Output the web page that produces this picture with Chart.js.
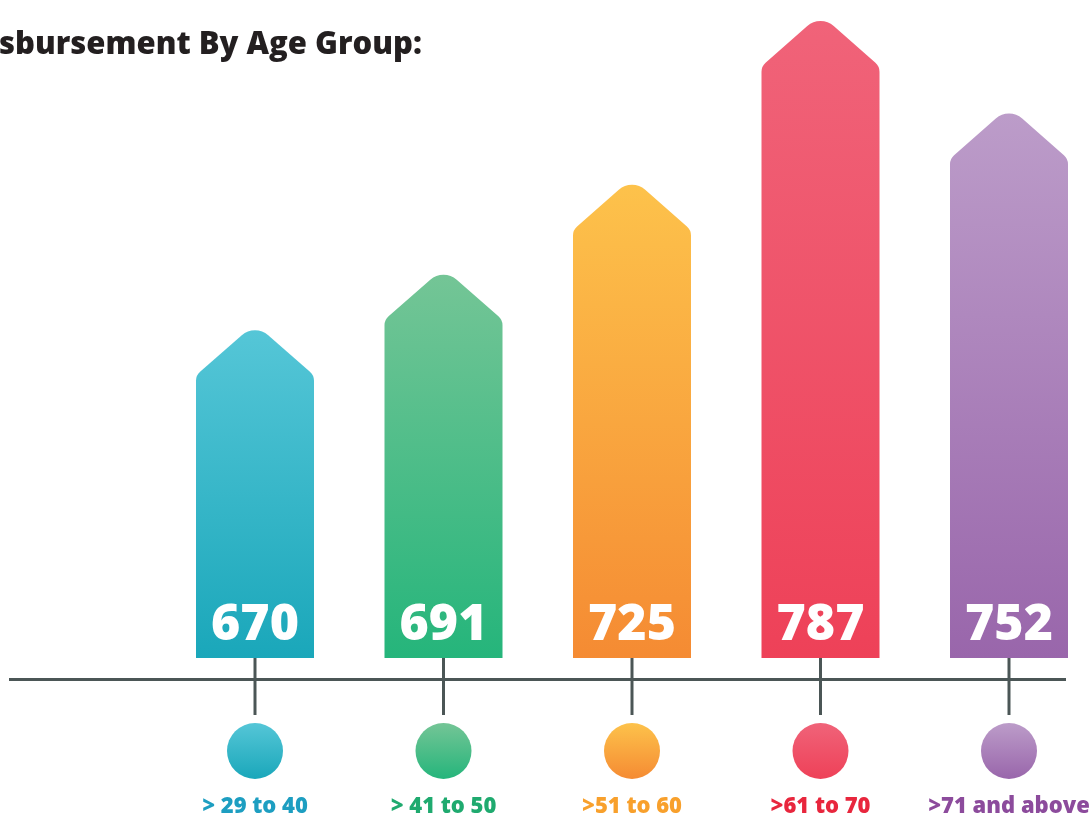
<!DOCTYPE html>
<html>
<head>
<meta charset="utf-8">
<script src="https://cdn.jsdelivr.net/npm/chart.js@4.4.1/dist/chart.umd.min.js"></script>
<style>
  html, body { margin: 0; padding: 0; background: #ffffff; }
  canvas { display: block; }
</style>
</head>
<body>
<canvas id="ageChart" width="1089" height="819"></canvas>
<script>
// data
const ageGroups = ['> 29 to 40', '> 41 to 50', '>51 to 60', '>61 to 70', '>71 and above'];
const disbursements = [670, 691, 725, 787, 752];
const titleText = 'sbursement By Age Group:';

// colours: top of gradient, bottom of gradient, label text
const topColors = ['#55c6d7', '#74c596', '#fdc24b', '#f06379', '#bc9cc9'];
const bottomColors = ['#1aa7ba', '#25b57b', '#f58b33', '#ee4158', '#9966ab'];
const labelColors = ['#1d9ec1', '#1faa6f', '#f8a02c', '#e8263d', '#8c4b9c'];

const lineColor = '#4b5656';
const fontName = '"Open Sans", "Liberation Sans", sans-serif';

const ctx = document.getElementById('ageChart');

// arrow shaped bar with rounded tip and shoulders
function arrowPath(c, x, top, base, w) {
    let half = w / 2;
    let rTip = 20;
    let rSh = 12;
    let slope = 0.88;
    let apex = top - rTip * 0.34;
    let shY = apex + half * slope;
    let left = x - half;
    let right = x + half;
    c.beginPath();
    c.moveTo(left, base);
    c.lineTo(left, shY + rSh);
    c.arcTo(left, shY, x, apex, rSh);
    c.arcTo(x, apex, right, shY, rTip);
    c.arcTo(right, shY, right, base, rSh);
    c.lineTo(right, base);
    c.closePath();
}

const infographic = {
    id: 'infographic',
    afterDatasetsDraw(chart) {
        let c = chart.ctx;
        let meta = chart.getDatasetMeta(0);
        let base = chart.scales.y.getPixelForValue(chart.scales.y.min);

        c.save();

        // title
        c.fillStyle = '#231f20';
        c.font = '800 31px ' + fontName;
        c.textAlign = 'left';
        c.textBaseline = 'alphabetic';
        c.fillText(titleText, -1, 54);

        // axis line
        c.strokeStyle = lineColor;
        c.lineWidth = 3;
        c.beginPath();
        c.moveTo(9, base + 21.5);
        c.lineTo(1066, base + 21.5);
        c.stroke();

        meta.data.forEach(function (bar, i) {
            let w = bar.width;
            let g = c.createLinearGradient(0, bar.y, 0, base);
            g.addColorStop(0, topColors[i]);
            g.addColorStop(1, bottomColors[i]);
            arrowPath(c, bar.x, bar.y, base, w);
            c.fillStyle = g;
            c.fill();

            // value inside bar
            c.fillStyle = '#ffffff';
            c.font = '800 50px ' + fontName;
            c.textAlign = 'center';
            c.fillText(String(disbursements[i]), bar.x, base - 18);

            // tick down to the circle
            c.strokeStyle = lineColor;
            c.lineWidth = 3;
            c.beginPath();
            c.moveTo(bar.x, base);
            c.lineTo(bar.x, base + 57);
            c.stroke();

            // circle
            let cy = base + 93;
            let cg = c.createLinearGradient(0, cy - 28, 0, cy + 28);
            cg.addColorStop(0, topColors[i]);
            cg.addColorStop(1, bottomColors[i]);
            c.fillStyle = cg;
            c.beginPath();
            c.arc(bar.x, cy, 28, 0, Math.PI * 2);
            c.fill();

            // category label
            c.fillStyle = labelColors[i];
            c.font = '800 22px ' + fontName;
            c.fillText(ageGroups[i], bar.x, base + 155);
        });

        c.restore();
    }
};

let myChart = new Chart(ctx, {
    type: 'bar',
    data: {
        labels: ageGroups,
        datasets: [{
            label: 'Disbursement',
            data: disbursements,
            backgroundColor: 'rgba(0,0,0,0)',
            borderWidth: 0,
            barThickness: 118,
            clip: false
        }]
    },
    options: {
        responsive: false,
        devicePixelRatio: 1,
        animation: false,
        layout: {
            padding: { top: 0, left: 255, right: 80, bottom: 161 }
        },
        scales: {
            x: { display: false, offset: false },
            y: { display: false, min: 546, max: 795 }
        },
        plugins: {
            legend: { display: false },
            tooltip: { enabled: false },
            title: { display: false }
        }
    },
    plugins: [infographic]
});
</script>
</body>
</html>
